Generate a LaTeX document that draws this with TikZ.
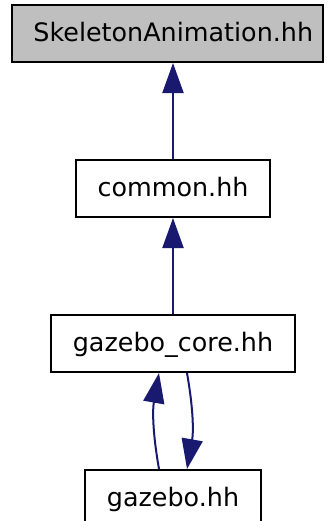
\documentclass[tikz,border=0pt]{standalone}
\usepackage{fontspec}
\setmainfont{DejaVu Sans}
\usepackage{xcolor}
\usepackage{tikz}
\usetikzlibrary{positioning,calc,arrows.meta}
\definecolor{hdrgray}{RGB}{191,191,191}
\definecolor{incl}{RGB}{25,25,112}
\tikzset{
  hbox/.style={draw,line width=1pt,minimum height=28.5pt,inner xsep=11pt,inner ysep=0pt,
    text height=12pt,text depth=4pt,font=\fontsize{12.7pt}{15pt}\selectfont},
  rootbox/.style={hbox,fill=hdrgray,inner xsep=5pt},
  incedge/.style={draw=incl,line width=1pt,-{Triangle[length=15pt,width=10.5pt]}},
}

\begin{document}
\begin{tikzpicture}[node distance=48pt]
  \useasboundingbox (-86.5pt,-166.25pt) rectangle (77pt,94.25pt);
  \node[hbox] (common) at (0,0) {common.hh};
  \node[rootbox,above=of common,xshift=-2.6pt] (skel) {\hspace*{5.5pt}SkeletonAnimation.hh};
  \node[hbox,below=of common] (core) {gazebo\_core.hh};
  \node[hbox,below=of core] (gz) {gazebo.hh};
  \draw[incedge] (common.north) -- (common.north |- skel.south);
  \draw[incedge] (core.north) -- (common.south);
  \draw[incedge] ($(gz.north)+(-7pt,0)$) to[bend left=10] ($(core.south)+(-7pt,0)$);
  \draw[incedge] ($(core.south)+(7pt,0)$) to[bend left=10] ($(gz.north)+(7pt,0)$);
\end{tikzpicture}
\end{document}
